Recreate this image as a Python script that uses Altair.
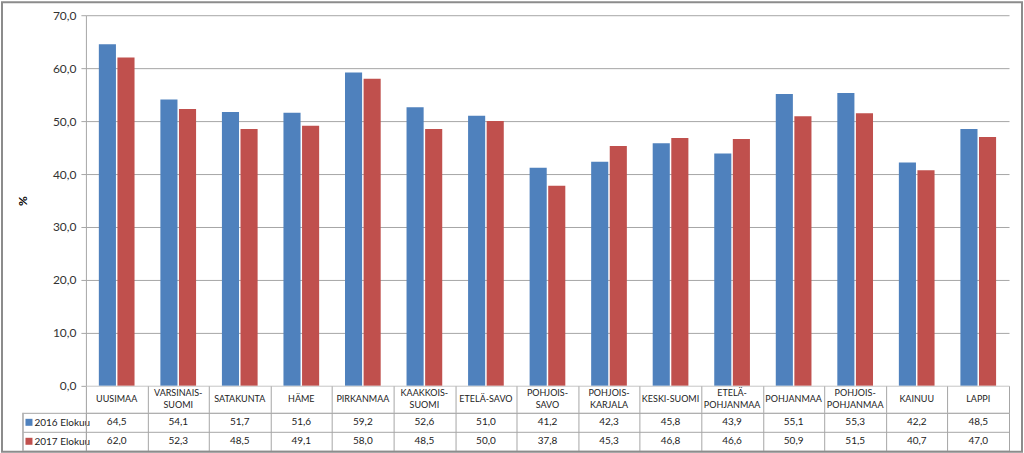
import altair as alt
import pandas as pd

categories = ["UUSIMAA", "VARSINAIS-\nSUOMI", "SATAKUNTA", "HÄME", "PIRKANMAA",
              "KAAKKOIS-\nSUOMI", "ETELÄ-SAVO", "POHJOIS-\nSAVO", "POHJOIS-\nKARJALA",
              "KESKI-SUOMI", "ETELÄ-\nPOHJANMAA", "POHJANMAA", "POHJOIS-\nPOHJANMAA",
              "KAINUU", "LAPPI"]
series = ["2016 Elokuu", "2017 Elokuu"]
v2016 = [64.5, 54.1, 51.7, 51.6, 59.2, 52.6, 51.0, 41.2, 42.3, 45.8, 43.9, 55.1, 55.3, 42.2, 48.5]
v2017 = [62.0, 52.3, 48.5, 49.1, 58.0, 48.5, 50.0, 37.8, 45.3, 46.8, 46.6, 50.9, 51.5, 40.7, 47.0]
colors = ["#4F81BD", "#C0504D"]
y_ticks = [0, 10, 20, 30, 40, 50, 60, 70]

rows = []
for i, c in enumerate(categories):
    rows.append({"cat": c, "series": series[0], "value": v2016[i]})
    rows.append({"cat": c, "series": series[1], "value": v2017[i]})
df = pd.DataFrame(rows)
cat_df = pd.DataFrame({"cat": categories})
ser_df = pd.DataFrame({"series": series})

W = 924
GRID = "#A6A6A6"
FONT = "Lato"
fmt = "replace(format(datum.value, '.1f'), '.', ',')"

color_enc = alt.Color("series:N", scale=alt.Scale(domain=series, range=colors), legend=None)

bars = alt.Chart(df).mark_bar().encode(
    x=alt.X("cat:N", scale=alt.Scale(domain=categories, paddingInner=0.42, paddingOuter=0.21), axis=None),
    xOffset=alt.XOffset("series:N", scale=alt.Scale(domain=series, paddingInner=0.08)),
    y=alt.Y("value:Q", scale=alt.Scale(domain=[0, 70]),
            axis=alt.Axis(values=y_ticks, labelExpr=fmt, title="%", grid=True, gridColor=GRID,
                          domainColor=GRID, tickColor=GRID, tickSize=5, labelPadding=5,
                          labelFontSize=12, labelColor="#333333", labelFont=FONT,
                          titleFontSize=12, titleFontWeight="bold", titleFont=FONT,
                          titleColor="#000000", titlePadding=23)),
    color=color_enc,
).properties(width=W, height=371, view=alt.ViewBackground(stroke="transparent"))

col_x = alt.X("cat:N", scale=alt.Scale(domain=categories, paddingInner=0, paddingOuter=0),
              axis=alt.Axis(title=None, labels=False, ticks=False, domain=False, grid=True,
                            tickBand="extent", gridColor=GRID))

cat_base = alt.Chart(cat_df).encode(x=col_x, text="cat:N")
cat_single = cat_base.transform_filter("indexof(datum.cat, '\\n') < 0").mark_text(
    fontSize=9, font=FONT, color="#222222", baseline="middle")
cat_multi = cat_base.transform_filter("indexof(datum.cat, '\\n') >= 0").mark_text(
    fontSize=9, lineBreak="\n", lineHeight=12, font=FONT, color="#222222",
    baseline="middle", dy=-6)
catrow = alt.layer(cat_single, cat_multi).properties(width=W, height=27)

row_y = alt.Y("series:N", scale=alt.Scale(domain=series, paddingInner=0, paddingOuter=0),
              axis=alt.Axis(title=None, tickBand="extent", tickSize=63, tickColor=GRID,
                            domainColor=GRID, labelAlign="left", labelPadding=-11,
                            labelFontSize=10, labelColor="#222222", labelFont=FONT,
                            grid=True, gridColor=GRID))

vals = alt.Chart(df).transform_calculate(lab=fmt).mark_text(
    fontSize=10, font=FONT, color="#222222").encode(
    x=col_x, y=row_y, text="lab:N")

squares = alt.Chart(ser_df).mark_square(size=49, opacity=1).encode(
    x=alt.value(-57), y=row_y, color=color_enc)

border = alt.Chart(ser_df).mark_rule(color=GRID).encode(
    x=alt.value(-63), y=alt.value(0), y2=alt.value(38))

frame = alt.Chart(pd.DataFrame({"k": [0]})).mark_rect(
    fill="transparent", stroke="#8C8C8C", strokeWidth=2).encode(
    x=alt.value(-84), x2=alt.value(937), y=alt.value(-411), y2=alt.value(39))

table = alt.layer(vals, squares, border, frame).properties(width=W, height=38)

chart = alt.vconcat(bars, catrow, table, spacing=0, bounds="flush").properties(
    padding={"left": 0, "top": 0, "right": 0, "bottom": 0}
).configure_view(stroke=GRID).configure(font=FONT, background="white")

chart.save("out.html", embed_options={"renderer": "svg", "actions": False})
